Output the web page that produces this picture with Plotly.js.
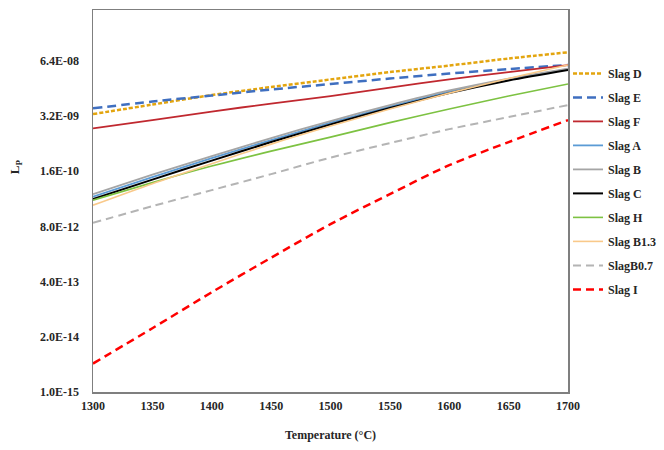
<!DOCTYPE html>
<html>
<head>
<meta charset="utf-8">
<script src="https://cdn.plot.ly/plotly-3.0.1.min.js"></script>
<style>html,body{margin:0;padding:0;background:#fff;}#chart{width:664px;height:450px;}</style>
</head>
<body>
<div id="chart"></div>
<script>
// Temperature (°C)
const temperature = [1300, 1350, 1400, 1450, 1500, 1550, 1600, 1650, 1700];

// L_P values (log scale)
const slagD   = [3.53e-9, 5.92e-9, 9.91e-9, 1.53e-8, 2.32e-8, 3.45e-8, 4.91e-8, 7.19e-8, 1.01e-7];
const slagE   = [4.81e-9, 6.97e-9, 9.64e-9, 1.34e-8, 1.80e-8, 2.43e-8, 3.18e-8, 4.06e-8, 5.05e-8];
const slagF   = [1.63e-9, 2.55e-9, 4.05e-9, 6.24e-9, 9.38e-9, 1.49e-8, 2.32e-8, 3.45e-8, 5.05e-8];
const slagA   = [4.01e-11, 1.15e-10, 3.24e-10, 8.61e-10, 2.22e-9, 5.31e-9, 1.20e-8, 2.30e-8, 4.06e-8];
const slagB   = [4.59e-11, 1.32e-10, 3.61e-10, 9.60e-10, 2.42e-9, 5.75e-9, 1.27e-8, 2.43e-8, 4.18e-8];
const slagC   = [3.50e-11, 1.01e-10, 2.83e-10, 7.73e-10, 2.00e-9, 4.89e-9, 1.10e-8, 2.18e-8, 3.85e-8];
const slagH   = [3.31e-11, 8.57e-11, 2.10e-10, 4.73e-10, 1.01e-9, 2.22e-9, 4.63e-9, 9.38e-9, 1.80e-8];
const slagB13 = [2.52e-11, 8.11e-11, 2.40e-10, 6.92e-10, 1.84e-9, 4.63e-9, 1.10e-8, 2.43e-8, 5.05e-8];
const slagB07 = [9.66e-12, 2.39e-11, 5.70e-11, 1.36e-10, 3.33e-10, 7.31e-10, 1.56e-9, 3.00e-9, 5.75e-9];
const slagI   = [4.68e-15, 3.18e-14, 2.24e-13, 1.46e-12, 9.00e-12, 4.59e-11, 2.21e-10, 7.73e-10, 2.55e-9];

const seriesNames = ['Slag D', 'Slag E', 'Slag F', 'Slag A', 'Slag B', 'Slag C', 'Slag H', 'Slag B1.3', 'SlagB0.7', 'Slag I'];

// Axis ticks
const yTickVals = [1.0e-15, 2.0e-14, 4.0e-13, 8.0e-12, 1.6e-10, 3.2e-9, 6.4e-8];
const yTickText = ['1.0E-15', '2.0E-14', '4.0E-13', '8.0E-12', '1.6E-10', '3.2E-09', '6.4E-08'];
const xTickVals = [1300, 1350, 1400, 1450, 1500, 1550, 1600, 1650, 1700];

const seriesValues = [slagD, slagE, slagF, slagA, slagB, slagC, slagH, slagB13, slagB07, slagI];
const styles = [
  {color: '#E3A50F', width: 2.5, dash: '4px,2px'},
  {color: '#3F6FC0', width: 2.5, dash: '9px,5px'},
  {color: '#C0282F', width: 1.8, dash: 'solid'},
  {color: '#5B9BD5', width: 1.8, dash: 'solid'},
  {color: '#A5A5A5', width: 1.8, dash: 'solid'},
  {color: '#000000', width: 2.0, dash: 'solid'},
  {color: '#7DC242', width: 1.6, dash: 'solid'},
  {color: '#F9C98A', width: 1.6, dash: 'solid'},
  {color: '#B4B4B4', width: 2.0, dash: '8px,5px'},
  {color: '#FF0000', width: 2.5, dash: '8px,5px'}
];

const traces = seriesNames.map((name, i) => ({
  x: temperature,
  y: seriesValues[i],
  type: 'scatter',
  mode: 'lines',
  name: name,
  legendgroup: 'g' + i,
  line: {color: styles[i].color, width: styles[i].width, dash: styles[i].dash, shape: 'spline', smoothing: 0.8}
}));

const serif = 'Liberation Serif, Times New Roman, serif';

const layout = {
  width: 664,
  height: 450,
  margin: {l: 93, r: 96, t: 10, b: 58, autoexpand: false},
  paper_bgcolor: '#ffffff',
  plot_bgcolor: '#ffffff',
  showlegend: true,
  font: {family: serif, size: 12, color: '#262626'},
  xaxis: {
    range: [1300, 1700],
    tickvals: xTickVals,
    ticktext: xTickVals.map(String),
    showgrid: false,
    zeroline: false,
    showline: true,
    mirror: true,
    linecolor: '#7f7f7f',
    linewidth: 1.5,
    ticks: '',
    ticklabelstandoff: 2,
    tickfont: {family: serif, size: 12, color: '#262626', weight: 'bold'},
    title: {text: 'Temperature (°C)', font: {family: serif, size: 12, color: '#262626', weight: 'bold'}, standoff: 18}
  },
  yaxis: {
    type: 'log',
    range: [-15, -6],
    tickvals: yTickVals,
    ticktext: yTickText,
    showgrid: false,
    zeroline: false,
    showline: true,
    mirror: true,
    linecolor: '#7f7f7f',
    linewidth: 1.5,
    ticks: '',
    ticklabelstandoff: 10,
    tickfont: {family: serif, size: 12, color: '#262626', weight: 'bold'}
  },
  legend: {
    x: 1.0,
    xanchor: 'left',
    y: 0.872,
    yanchor: 'top',
    traceorder: 'grouped',
    tracegroupgap: 5,
    itemwidth: 30,
    font: {family: serif, size: 12, color: '#262626', weight: 'bold'},
    bgcolor: 'rgba(0,0,0,0)'
  },
  annotations: [{
    text: 'L<sub>P</sub>',
    xref: 'paper', yref: 'paper',
    x: -0.163, y: 0.59,
    xanchor: 'center', yanchor: 'middle',
    textangle: -90,
    showarrow: false,
    font: {family: serif, size: 13, color: '#262626', weight: 'bold'}
  }]
};

Plotly.newPlot('chart', traces, layout, {staticPlot: true, displayModeBar: false});
</script>
</body>
</html>
